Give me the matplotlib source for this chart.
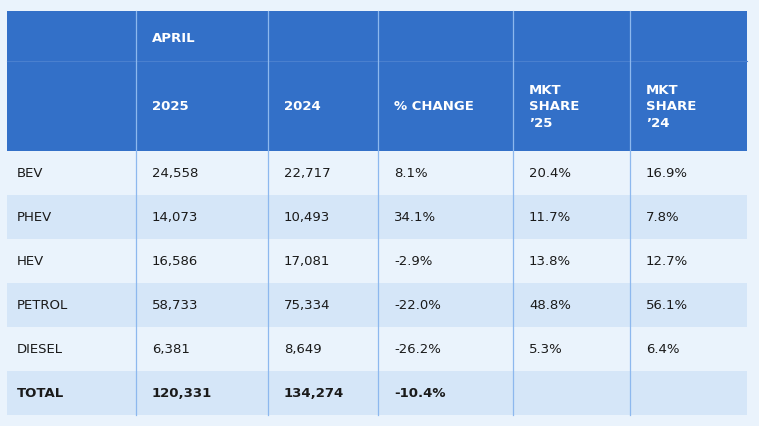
import matplotlib.pyplot as plt
from matplotlib.patches import Rectangle

categories = ["BEV", "PHEV", "HEV", "PETROL", "DIESEL", "TOTAL"]
sales_2025 = ["24,558", "14,073", "16,586", "58,733", "6,381", "120,331"]
sales_2024 = ["22,717", "10,493", "17,081", "75,334", "8,649", "134,274"]
pct_change = ["8.1%", "34.1%", "-2.9%", "-22.0%", "-26.2%", "-10.4%"]
share_25 = ["20.4%", "11.7%", "13.8%", "48.8%", "5.3%", ""]
share_24 = ["16.9%", "7.8%", "12.7%", "56.1%", "6.4%", ""]
headers = ["", "2025", "2024", "% CHANGE", "MKT\nSHARE\n\u201925", "MKT\nSHARE\n\u201924"]

W, H = 759, 427
fig = plt.figure(figsize=(W / 100, H / 100), dpi=100)
fig.patch.set_facecolor("#eaf3fc")
ax = fig.add_axes([0, 0, 1, 1])
ax.set_xlim(0, W)
ax.set_ylim(H, 0)
ax.axis("off")

left, right = 7, 747
top, head_split, head_bot = 12, 62, 152
row_h = 44
col_x = [left, 136, 268, 378, 513, 630, right]
blue = "#3370c8"
alt = "#d5e6f8"
line_col = "#8db8ee"
text_col = "#1a1a1a"

ax.add_patch(Rectangle((left, top), right - left, head_bot - top, color=blue, lw=0))
ax.plot([left, right], [head_split, head_split], color="#4a80cf", lw=0.8)
ax.text(col_x[1] + 16, 38, "APRIL", color="white", fontsize=9.5, fontweight="bold",
        va="center", ha="left")
for i, h in enumerate(headers):
    if h:
        ax.text(col_x[i] + 16, 107, h, color="white", fontsize=9.5, fontweight="bold",
                va="center", ha="left", linespacing=1.35)

cols = [categories, sales_2025, sales_2024, pct_change, share_25, share_24]
for r in range(len(categories)):
    y0 = head_bot + r * row_h
    if r % 2 == 1:
        ax.add_patch(Rectangle((left, y0), right - left, row_h, color=alt, lw=0))
    bold = categories[r] == "TOTAL"
    for c, col in enumerate(cols):
        ax.text(col_x[c] + (10 if c == 0 else 16), y0 + row_h / 2, col[r], color=text_col,
                fontsize=9.5, fontweight="bold" if bold else "normal", va="center", ha="left")

bottom = head_bot + len(categories) * row_h
for x in col_x[1:-1]:
    ax.plot([x, x], [top, bottom], color=line_col, lw=0.9)

fig.savefig("out.png", dpi=100, facecolor=fig.get_facecolor())
